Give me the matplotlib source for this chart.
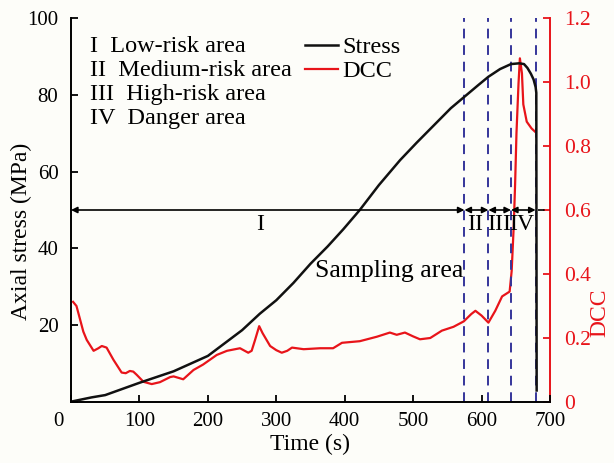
import matplotlib
matplotlib.use("Agg")
import matplotlib.pyplot as plt
import matplotlib.transforms as mtransforms

# ---------------- data ----------------
stress_t = [3, 30, 50, 100, 150, 200, 250, 276, 300, 325, 350, 375, 398, 422, 450,
            481, 505, 530, 555, 575, 595, 610, 627, 643, 655, 662, 667, 672, 676,
            679, 680, 680.5]
stress_v = [0.2, 1.2, 1.8, 5.0, 8.0, 12.0, 18.7, 23.0, 26.5, 31.0, 36.0, 40.5, 45.0,
            50.0, 56.5, 63.0, 67.5, 72.0, 76.5, 79.5, 82.5, 84.7, 86.7, 88.0, 88.2,
            88.0, 87.0, 85.5, 84.0, 82.0, 80.5, 3.0]

dcc_t = [3, 8, 13, 18, 23, 33, 40, 45, 52, 62, 74, 80, 86, 91, 96, 106, 118, 130,
         145, 150, 164, 179, 193, 213, 228, 247, 259, 264, 269, 275, 280, 291, 300,
         308, 316, 323, 340, 364, 383, 396, 422, 447, 466, 476, 488, 500, 510, 525,
         542, 559, 574, 585, 591, 600, 610, 620, 630, 641, 644, 647, 649, 651, 654,
         656, 659, 661, 666, 673, 678]
dcc_v = [0.313, 0.30, 0.26, 0.22, 0.194, 0.16, 0.168, 0.175, 0.17, 0.132, 0.092,
         0.09, 0.097, 0.095, 0.085, 0.063, 0.056, 0.062, 0.078, 0.08, 0.071, 0.10,
         0.117, 0.147, 0.16, 0.168, 0.154, 0.16, 0.194, 0.237, 0.215, 0.175, 0.162,
         0.154, 0.16, 0.17, 0.165, 0.168, 0.168, 0.185, 0.19, 0.204, 0.217, 0.21,
         0.217, 0.205, 0.196, 0.20, 0.223, 0.235, 0.252, 0.275, 0.285, 0.27, 0.248,
         0.285, 0.33, 0.345, 0.41, 0.55, 0.68, 0.84, 0.996, 1.074, 1.027, 0.93,
         0.876, 0.855, 0.845]

zone_bounds = [0, 575, 610, 643, 679]
zone_numerals = ["I", "II", "III", "IV"]
zone_names = ["Low-risk area", "Medium-risk area", "High-risk area", "Danger area"]
zone_label_x = [276, 591, 626, 659]

x_ticks = [0, 100, 200, 300, 400, 500, 600, 700]
y_ticks = [0, 20, 40, 60, 80, 100]
y2_ticks = [0, 0.2, 0.4, 0.6, 0.8, 1.0, 1.2]

# ---------------- style ----------------
plt.rcParams['font.family'] = ['Liberation Serif', 'DejaVu Serif']
BG = '#fdfdf9'
RED = '#e8141a'
BLUE = '#35359a'
FS_TICK = 15
FS_TEXT = 17.5
FS_LABEL = 17

fig = plt.figure(figsize=(6.14, 4.63), dpi=100, facecolor=BG)
ax = fig.add_axes([71/614, 1-402/463, 479/614, 384/463])
ax2 = ax.twinx()
ax.set_zorder(ax2.get_zorder() + 1)
ax.patch.set_visible(False)
ax2.patch.set_facecolor(BG)

# curves
l_dcc, = ax2.plot(dcc_t, dcc_v, color=RED, lw=1.6, label='DCC')
l_st, = ax.plot(stress_t, stress_v, color='#111111', lw=1.8, label='Stress')

# dashed zone boundaries
for b in zone_bounds[1:]:
    ax.axvline(b, color=BLUE, lw=1.4, ls=(0, (5, 3.5)), zorder=1)

# arrows
for a, b in zip(zone_bounds[:-1], zone_bounds[1:]):
    ax.annotate('', xy=(b, 50), xytext=(a, 50),
                arrowprops=dict(arrowstyle='<|-|>', color='black', lw=1.2,
                                mutation_scale=9, shrinkA=0, shrinkB=0))
ax.plot([zone_bounds[-1] + 3, 700], [50, 50], color='black', lw=1.2, ls=(0, (4, 3)))

for x, n in zip(zone_label_x, zone_numerals):
    ax.text(x, 49.0, n, ha='center', va='top', fontsize=17)

ax.text(357, 32.6, 'Sampling area', ha='left', va='baseline', fontsize=18.5)

# region legend
for i, (n, name) in enumerate(zip(zone_numerals, zone_names)):
    ax.text(0.04, 0.925 - i * 0.0625, f"{n}  {name}", transform=ax.transAxes,
            ha='left', va='center', fontsize=FS_TEXT)

leg = ax.legend(handles=[l_st, l_dcc], loc='upper left',
                bbox_to_anchor=(0.488, 0.952), frameon=False, fontsize=FS_TEXT,
                handlelength=1.36, handletextpad=0.2, labelspacing=0.07,
                borderpad=0, borderaxespad=0)

# axes
ax.set_xlim(0, 700)
ax.set_ylim(0, 100)
ax2.set_ylim(0, 1.2)

ax.set_xticks(x_ticks)
ax.set_xticklabels([str(v) for v in x_ticks])
ax.set_yticks(y_ticks)
ax.set_yticklabels([''] + [str(v) for v in y_ticks[1:]])
ax2.set_yticks(y2_ticks)
ax2.set_yticklabels(['0'] + [f"{v:.1f}" for v in y2_ticks[1:]])

ax.tick_params(axis='x', direction='in', length=5, width=1.3, labelsize=FS_TICK, pad=7)
ax.tick_params(axis='y', direction='in', length=5, width=1.3, labelsize=FS_TICK, pad=9)
ax2.tick_params(axis='y', direction='in', length=5, width=1.3, labelsize=15.5, pad=10,
                colors=RED)

# shift x "0" label left
lbl0 = ax.get_xticklabels()[0]
lbl0.set_transform(lbl0.get_transform() + mtransforms.ScaledTranslation(-13/100, 0, fig.dpi_scale_trans))

for a in (ax, ax2):
    a.spines['top'].set_visible(False)
ax.spines['right'].set_visible(False)
ax2.spines['left'].set_visible(False)
ax2.spines['bottom'].set_visible(False)
ax.spines['left'].set_linewidth(1.4)
ax.spines['bottom'].set_linewidth(1.4)
ax2.spines['right'].set_linewidth(1.4)
ax2.spines['right'].set_color(RED)

ax.set_xlabel('Time (s)', fontsize=FS_LABEL)
ax.xaxis.set_label_coords(0.5, -0.083)
ax.set_ylabel('Axial stress (MPa)', fontsize=FS_LABEL)
ax.yaxis.set_label_coords(-0.081, 0.445)
ax2.set_ylabel('DCC', fontsize=FS_LABEL, color=RED)
ax2.yaxis.set_label_coords(1.083, 0.232)

fig.savefig('out.png', dpi=100, facecolor=BG)
